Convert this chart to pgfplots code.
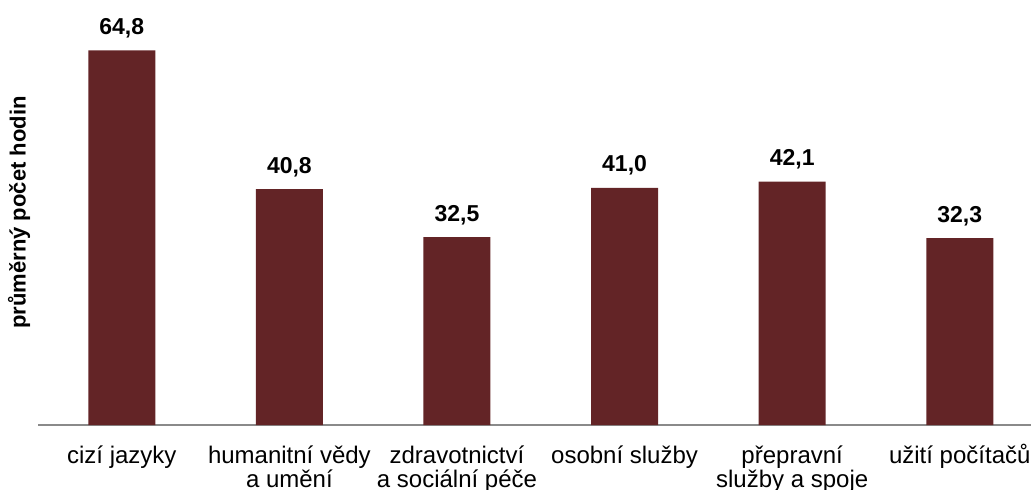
\documentclass[border=0pt]{standalone}
\usepackage{pgfplots}
\pgfplotsset{compat=1.18}
\usepackage{fontspec}
\setmainfont{Liberation Sans}
\definecolor{barred}{HTML}{632426}
\definecolor{axisgray}{HTML}{8A8A8A}
\newcommand{\tl}{\rule{0pt}{20pt}}
\begin{document}
\begin{tikzpicture}
\useasboundingbox (0,0) rectangle (1031pt,490pt);
\begin{axis}[
    at={(38pt,65pt)}, anchor=south west,
    scale only axis, width=993pt, height=425pt,
    xmin=-0.5, xmax=5.425, ymin=0, ymax=73.5,
    axis x line*=bottom, axis y line*=left,
    x axis line style={axisgray, line width=1.6pt, -},
    y axis line style={draw=none},
    ytick=\empty,
    xtick=data,
    xticklabels={{\tl cizí jazyky},{\tl humanitní vědy\\a umění},{\tl zdravotnictví\\a sociální péče},{\tl osobní služby},{\tl přepravní\\služby a spoje},{\tl užití počítačů}},
    major tick length=0pt,
    xticklabel style={font=\fontsize{24}{24}\selectfont, align=center, anchor=north, inner sep=0pt, yshift=-18pt},
    ylabel={průměrný počet hodin},
    ylabel style={font=\bfseries\fontsize{22}{24}\selectfont, at={(axis description cs:-0.019,0.5)}, anchor=center},
    ybar, bar width=67pt,
    nodes near coords={\pgfmathprintnumber[fixed,fixed zerofill,precision=1,use comma,assume math mode=true]{\pgfplotspointmeta}},
    every node near coord/.append style={font=\bfseries\fontsize{23}{24}\selectfont, anchor=base, inner sep=0pt, yshift=16pt},
    clip=false,
]
\addplot[fill=barred, draw=none] coordinates {
    (0,64.8) (1,40.8) (2,32.5) (3,41.0) (4,42.1) (5,32.3)
};
\end{axis}
\end{tikzpicture}
\end{document}
